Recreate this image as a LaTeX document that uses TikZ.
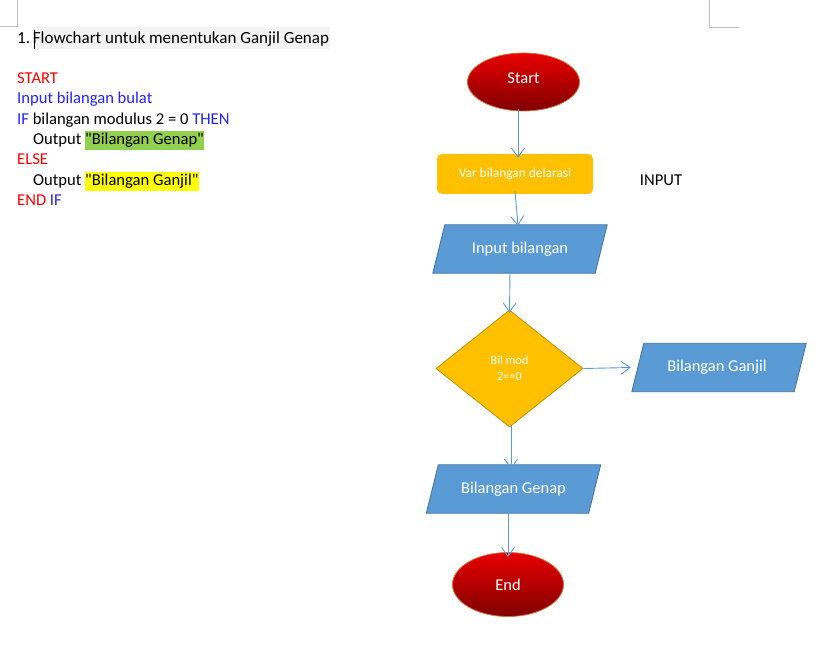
\documentclass[tikz,border=0pt]{standalone}
\usepackage{fontspec}
\setmainfont{Carlito}
\usetikzlibrary{shapes.geometric,arrows.meta,backgrounds,calc}
\definecolor{arrowblue}{HTML}{5B9BD5}
\definecolor{parafill}{HTML}{5B9BD5}
\definecolor{paradraw}{HTML}{41719C}
\definecolor{amber}{HTML}{FFC000}
\definecolor{amberdraw}{HTML}{BF9000}
\definecolor{redtop}{HTML}{E80000}
\definecolor{redbot}{HTML}{800000}
\definecolor{redborder}{HTML}{D0703A}
\definecolor{kwred}{HTML}{FF0000}
\definecolor{kwblue}{HTML}{2222FF}
\definecolor{hlgreen}{HTML}{92D050}
\definecolor{hlyellow}{HTML}{FFFF00}
\definecolor{marks}{HTML}{BFBFBF}
\definecolor{titlebg}{HTML}{F3F3F3}
\newcommand\myhl[2]{{\setlength{\fboxsep}{0pt}\colorbox{#1}{\strut #2}}}
\newcommand\dq{\XeTeXglyph\XeTeXcharglyph"22\relax}
\tikzset{
  code/.style={anchor=base west, inner sep=0pt, font=\fontsize{16.6}{19.5}\selectfont},
  terminal/.style={ellipse, minimum width=112, minimum height=58, inner sep=0pt,
    draw=redborder, line width=0.8pt, top color=redtop, bottom color=redbot,
    text=white, font=\fontsize{16.5}{19}\selectfont},
  para/.style={rectangle, minimum width=162, minimum height=48, inner sep=0pt,
    text=white, font=\fontsize{16.5}{19}\selectfont},
  parashape/.style={fill=parafill, draw=paradraw, line width=0.8pt},
  proc/.style={rectangle, rounded corners=5, fill=amber, minimum width=156,
    minimum height=40, inner sep=0pt, text=white, font=\fontsize{13.4}{15}\selectfont},
  decision/.style={diamond, shape aspect=1.256, minimum width=147, minimum height=117,
    inner sep=0pt, fill=amber, draw=amberdraw, line width=0.8pt, text=white,
    align=center, font=\fontsize{12.3}{16}\selectfont},
  flow/.style={draw=arrowblue, line width=0.9pt, -{Straight Barb[length=9pt, width=13pt]}},
}
\begin{document}
\begin{tikzpicture}[x=1pt, y=-1pt]
\useasboundingbox (0,0) rectangle (835,652);
% page corner marks
\draw[marks, line width=0.8pt] (17,0) -- (17,26) -- (0,26);
\draw[marks, line width=0.8pt] (709,0) -- (709,27) -- (739,27);
% title
\fill[titlebg] (33,27) rectangle (330,49);
\node[code, font=\fontsize{17}{20}\selectfont] (title) at (17,44) {1.\,Flowchart untuk menentukan Ganjil Genap};
\draw[black, line width=1.5pt] (34.5,30) -- (34.5,49);
% pseudo code
\node[code, text=kwred] (c1) at (17,84) {START};
\node[code, text=kwblue] (c2) at (17,104) {Input bilangan bulat};
\node[code] (c3) at (17,124.5) {\textcolor{kwblue}{IF} bilangan modulus 2 = 0 \textcolor{kwblue}{THEN}};
\node[code] (c4) at (33,144.5) {Output \myhl{hlgreen}{\dq Bilangan Genap\dq}};
\node[code, text=kwred] (c5) at (17,165) {ELSE};
\node[code] (c6) at (33,185.5) {Output \myhl{hlyellow}{\dq Bilangan Ganjil\dq}};
\node[code] (c7) at (17,205.5) {\textcolor{kwred}{END} \textcolor{kwblue}{IF}};
% flowchart
\node[terminal, label={[text=white, font=\fontsize{16.5}{19}\selectfont, yshift=4pt]center:Start}] (start) at (523.5,82) {};
\node[proc] (var) at (515,174) {Var bilangan delarasi};
\node[code, anchor=center] (lab) at (661,180) {INPUT};
\node[para] (inp) at (520,249) {Input bilangan};
\node[decision] (dec) at (509.5,368.5) {Bil mod\\2==0};
\node[para] (ganjil) at (717,367.5) {Bilangan Ganjil};
\node[para] (genap) at (513.5,489) {Bilangan Genap};
\node[terminal, minimum width=111, minimum height=64] (end) at (508,584.5) {End};
\begin{scope}[on background layer]
  \foreach \n in {inp,genap}{
    \draw[parashape] ($(\n.north west)+(6,0)$) -- ($(\n.north east)+(6,0)$)
      -- ($(\n.south east)+(-6,0)$) -- ($(\n.south west)+(-6,0)$) -- cycle;
  }
  \draw[parashape] ($(ganjil.north west)+(8,0)$) -- ($(ganjil.north east)+(8,0)$)
      -- ($(ganjil.south east)+(-4,0)$) -- ($(ganjil.south west)+(-4,0)$) -- cycle;
\end{scope}
% connectors
\draw[flow] ([yshift=2]start.south -| 518,0) -- ([yshift=-4]var.north -| 518,0);
\draw[flow] ([xshift=0,yshift=3]var.south) -- ([xshift=3,yshift=-1]inp.north -| var.south);
\draw[flow] ([yshift=2]inp.south -| 510,0) -- ([yshift=-3]dec.north);
\draw[flow] (dec.east) -- ([xshift=-5]ganjil.west);
\draw[flow] ([yshift=2]dec.south -| 511,0) -- ([yshift=-4]genap.north -| 511,0);
\draw[flow] ([yshift=3]genap.south -| 508,0) -- ([yshift=-5]end.north);
\end{tikzpicture}
\end{document}
